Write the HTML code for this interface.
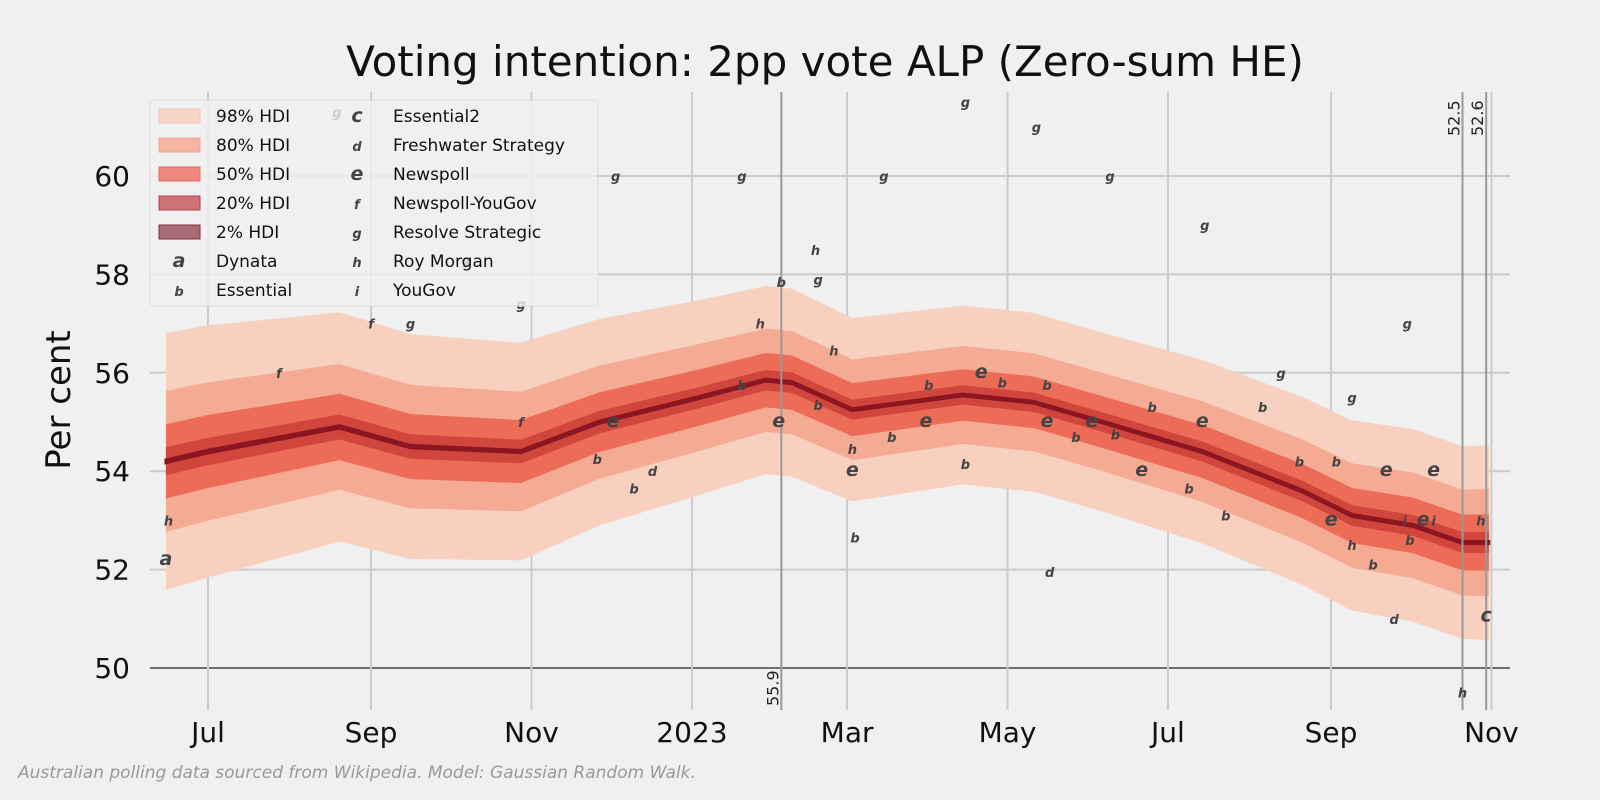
<!DOCTYPE html>
<html><head><meta charset="utf-8">
<style>
body{margin:0;background:#f0f0f0;}
svg{display:block;font-family:"DejaVu Sans","Liberation Sans",sans-serif;}
</style></head>
<body>
<svg id="chart" width="1600" height="800" viewBox="0 0 1600 800">
<rect x="0" y="0" width="1600" height="800" fill="#f0f0f0"/>
<text x="825" y="76" font-size="42" text-anchor="middle" fill="#111">Voting intention: 2pp vote ALP (Zero-sum HE)</text>
<g id="grid"></g>
<g id="bands"></g>
<g id="vlines"></g>
<g id="polls"></g>
<g id="axes"></g>
<text transform="translate(70,400) rotate(-90)" font-size="34" text-anchor="middle" fill="#111">Per cent</text>
<text x="18" y="778" font-size="17" font-style="italic" fill="#999">Australian polling data sourced from Wikipedia. Model: Gaussian Random Walk.</text>
<g id="legend"></g>
</svg>
<script>
// days relative to 1 Jul 2022
const modelDays=[-16,0,50,77,119,149,187,212,222,245,287,314,340,378,416,435,458,477,487];
const medianVals=[54.2,54.4,54.9,54.5,54.4,55.0,55.5,55.85,55.8,55.25,55.55,55.4,55.0,54.4,53.6,53.1,52.9,52.55,52.55];
const sigmaVals=[1.12,1.1,1.0,0.98,0.95,0.9,0.85,0.82,0.82,0.8,0.78,0.78,0.78,0.8,0.82,0.83,0.84,0.84,0.85];
const bandLabels=["98% HDI","80% HDI","50% HDI","20% HDI","2% HDI"];
const bandZ=[2.33,1.28,0.674,0.253,0.025];
const bandColors=["#f8d0c0","#f5ab93","#ec6c58","#d0453c","#8b1520"];
const pollDays=[-16,-15,27,62,77,98,119,119,154,148,162,169,155,203,203,210,218,217,231,232,232,238,257,245,245,246,260,273,274,288,288,294,302,315,319,319,320,330,336,345,343,359,355,378,379,373,387,401,408,415,427,429,435,435,443,451,456,448,466,455,462,466,457,484,486,477,49];
const pollVals=[52.2,53.0,56.0,57.0,57.0,58.3,57.4,55.0,55.0,54.25,53.65,54.0,60.0,60.0,55.75,57.0,57.85,55.0,58.5,57.9,55.35,56.45,60.0,54.0,54.45,52.65,54.7,55.0,55.75,61.5,54.15,56.0,55.8,61.0,55.0,55.75,51.95,54.7,55.0,54.75,60.0,55.3,54.0,55.0,59.0,53.65,53.1,55.3,56.0,54.2,53.0,54.2,55.5,52.5,52.1,51.0,57.0,54.0,54.0,53.0,53.0,53.0,52.6,53.0,51.05,49.5,61.3];
const pollFirms=["a","h","f","f","g","g","g","f","e","b","b","d","g","g","b","h","b","e","h","g","b","h","g","e","h","b","b","e","b","g","b","e","b","g","e","b","d","b","e","b","g","b","e","e","g","b","b","b","g","b","e","b","g","h","b","d","g","e","e","i","e","i","b","h","c","h","g"];
const yTicks=[50,52,54,56,58,60];
const xTickDays=[0,62,123,184,243,304,365,427,488];
const xTickLabels=["Jul","Sep","Nov","2023","Mar","May","Jul","Sep","Nov"];
const refDays=[218,477,486];
const refLabels=["55.9","52.5","52.6"];
const legendFirms=["a","b","c","d","e","f","g","h","i"];
const legendFirmNames=["Dynata","Essential","Essential2","Freshwater Strategy","Newspoll","Newspoll-YouGov","Resolve Strategic","Roy Morgan","YouGov"];

const X=d=>208+d*2.63;
const Y=v=>668-(v-50)*49.2;
const NS="http://www.w3.org/2000/svg";
function mk(tag,attrs,parent){const e=document.createElementNS(NS,tag);for(const k in attrs)e.setAttribute(k,attrs[k]);parent.appendChild(e);return e;}
const grid=document.getElementById('grid'),bands=document.getElementById('bands'),vl=document.getElementById('vlines'),polls=document.getElementById('polls'),axes=document.getElementById('axes'),leg=document.getElementById('legend');

yTicks.forEach(v=>{
  const l=mk('line',{x1:150,x2:1510,y1:Y(v),y2:Y(v),stroke:v===50?'#444':'#cbcbcb','stroke-width':v===50?1.5:2},grid);
  
  
  const t=mk('text',{x:130,y:Y(v)+10,'font-size':28,'text-anchor':'end',fill:'#111'},axes);
  t.textContent=v;
  
  
});
xTickDays.forEach((d,i)=>{
  const l=mk('line',{x1:X(d),x2:X(d),y1:92,y2:710,stroke:'#cbcbcb','stroke-width':2},grid);
  
  
  const t=mk('text',{x:X(d),y:742,'font-size':28,'text-anchor':'middle',fill:'#111'},axes);
  t.textContent=xTickLabels[i];
  
  
});
bandZ.forEach((z,b)=>{
  let top=modelDays.map((d,i)=>X(d)+','+Y(medianVals[i]+z*sigmaVals[i]));
  let bot=modelDays.map((d,i)=>X(d)+','+Y(medianVals[i]-z*sigmaVals[i])).reverse();
  const p=mk('polygon',{points:top.concat(bot).join(' '),fill:bandColors[b]},bands);
  if(b===4){p.setAttribute('stroke',bandColors[b]);p.setAttribute('stroke-width',3);}
  
  
});
refDays.forEach((d,i)=>{
  const l=mk('line',{x1:X(d),x2:X(d),y1:92,y2:710,stroke:'#999','stroke-width':2},vl);
  
  
  const t=mk('text',{'font-size':16,fill:'#222'},vl);
  if(i===0){t.setAttribute('transform','translate('+(X(d)-3)+',706) rotate(-90)');}
  else{t.setAttribute('transform','translate('+(X(d)-3)+',136) rotate(-90)');}
  t.textContent=refLabels[i];
  
  
});
pollDays.forEach((d,i)=>{
  const f=pollFirms[i];
  const big="ace".includes(f);
  const t=mk('text',{x:X(d),y:Y(pollVals[i])+5,'font-size':big?19:13,'font-weight':'bold','font-style':'italic','text-anchor':'middle',fill:'#444'},polls);
  t.textContent=f;
  
  
});
// legend
const lb=mk('rect',{x:150,y:100,width:448,height:206,rx:4,fill:'#f0f0f0','fill-opacity':0.8,stroke:'#ddd'},leg);


const legSw=["#f8d4c6","#f6b4a2","#ee8880","#cd7279","#a86c74"];
const legSt=["#f5c5b5","#f3a592","#e86a60","#b84050","#8b2a3a"];
bandLabels.forEach((lab,i)=>{
  const y=116+i*29;
  const r=mk('rect',{x:159,y:y-7,width:41,height:14,fill:legSw[i],stroke:legSt[i],'stroke-width':1},leg);
  
  
  const t=mk('text',{x:216,y:y+6,'font-size':17,fill:'#111'},leg);
  t.textContent=lab;
  
  
});
legendFirms.forEach((f,i)=>{
  let col=i<2?0:1, row=i<2?5+i:i-2;
  const y=116+row*29;
  const mx=col?357:179, tx=col?393:216;
  const m=mk('text',{x:mx,y:y+6,'font-size':"ace".includes(f)?19:13,'font-weight':'bold','font-style':'italic','text-anchor':'middle',fill:'#444'},leg);
  m.textContent=f;
  
  
  const t=mk('text',{x:tx,y:y+6,'font-size':17,fill:'#111'},leg);
  t.textContent=legendFirmNames[i];
  
  
});
</script>
</body></html>
